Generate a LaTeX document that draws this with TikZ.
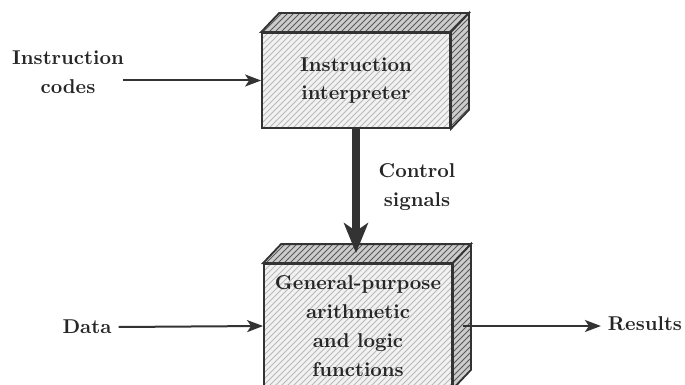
\documentclass[tikz,border=0pt]{standalone}
\usetikzlibrary{arrows.meta,patterns,calc}
\begin{document}
\begin{tikzpicture}[x=0.5pt,y=-0.5pt,
  every node/.style={font=\bfseries\linespread{1.2}\selectfont, text=black!85, align=center},
  front/.style={draw=black!80, line width=0.9pt, preaction={fill=gray!10}, pattern=north east lines, pattern color=gray!55, minimum width=94pt},
  face/.style={draw=black!80, line width=0.9pt, preaction={fill=gray!40}, pattern=north east lines, pattern color=black!65},
  wire/.style={draw=black!80, line width=1pt, -{Stealth[length=8pt,width=6pt,inset=2pt]}}]
\useasboundingbox (0,0) rectangle (685,385);
\node[front, minimum height=47.5pt] (interp) at (356,80.5) {Instruction\\interpreter};
\node[front, minimum height=62pt] (alu) at (358,326) {General-purpose\\arithmetic\\and logic\\functions};
\foreach \b in {interp,alu}{
  \path[face] (\b.north west) -- ++(18,-19) -- ($(\b.north east)+(18,-19)$) -- (\b.north east) -- cycle;
  \path[face] (\b.north east) -- ++(18,-19) -- ($(\b.south east)+(18,-19)$) -- (\b.south east) -- cycle;
}
\node (codes) at (68,72) {Instruction\\codes};
\node (ctrl) at (417,187) {Control\\signals};
\node (data) at (87,327) {Data};
\node (res) at (645,324) {Results};
\draw[wire] ([xshift=-4pt]codes.east |- interp.west) -- (interp.west);
\draw[draw=black!80, line width=4pt, -{Stealth[length=15pt,width=12pt,inset=4pt]}] (interp.south) -- ([yshift=5pt]interp.south |- alu.north);
\draw[wire] (data.east) -- (alu.west);
\draw[wire] ([xshift=5pt]alu.east) -- (alu.east -| res.west);
\end{tikzpicture}
\end{document}
